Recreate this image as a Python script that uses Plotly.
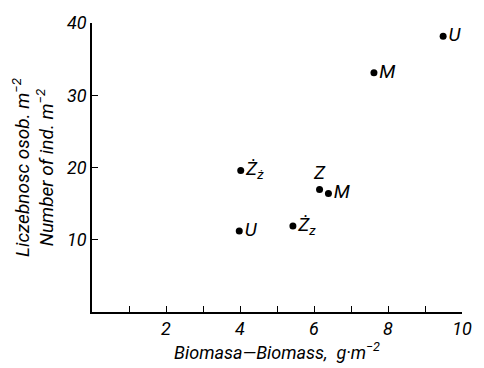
import plotly.graph_objects as go

biomass = [9.49, 7.62, 4.02, 3.98, 6.15, 6.39, 5.43]
density = [38.15, 33.1, 19.6, 11.2, 16.95, 16.4, 11.9]
labels = ["U", "M", "Ż<sub>ż</sub>", "U", "Z", "M", "Ż<sub>z</sub>"]
label_pos = ["middle right", "middle right", "middle right", "middle right",
             "top center", "middle right", "middle right"]

x_ticks = [2, 4, 6, 8, 10]
x_ticktext = ["2", "4", "6", "8", "10"]
y_ticks = [10, 20, 30, 40]
y_ticktext = ["10", "20", "30", "40"]

FONT = "Roboto"

fig = go.Figure()
fig.add_trace(go.Scatter(
    x=biomass, y=density, mode="markers+text",
    marker=dict(color="black", size=7),
    text=["<i>" + t + "</i>" for t in labels],
    textposition=label_pos,
    textfont=dict(family=FONT, size=19, color="black"),
    cliponaxis=False, showlegend=False,
))

fig.update_layout(
    width=484, height=368,
    margin=dict(l=92, r=16, t=13, b=56),
    paper_bgcolor="white", plot_bgcolor="white",
    font=dict(family=FONT, color="black"),
    xaxis=dict(
        range=[0, 10], showgrid=False, zeroline=False,
        showline=True, linecolor="black", linewidth=1.5,
        ticks="inside", ticklen=6, tickwidth=1.2, tickcolor="black",
        tickvals=x_ticks, ticktext=["<i>%s</i>" % t for t in x_ticktext],
        minor=dict(dtick=1, tick0=0, ticks="inside", ticklen=6, tickwidth=1.2,
                   tickcolor="black", showgrid=False),
        tickfont=dict(size=18, family=FONT),
        title=dict(text="<i>Biomasa—Biomass,  g·m<sup>−2</sup></i>",
                   font=dict(size=18, family=FONT), standoff=2),
    ),
    yaxis=dict(
        range=[0, 40], showgrid=False, zeroline=False,
        showline=True, linecolor="black", linewidth=1.5,
        ticks="inside", ticklen=6, tickwidth=1.2, tickcolor="black",
        tickvals=y_ticks, ticktext=["<i>%s</i>" % t for t in y_ticktext],
        tickfont=dict(size=18, family=FONT),
        title=dict(text="<i>Liczebnosc osob. m<sup>−2</sup><br>Number of ind. m<sup>−2</sup></i>",
                   font=dict(size=19, family=FONT), standoff=8),
    ),
)

fig.write_html("out.html")
